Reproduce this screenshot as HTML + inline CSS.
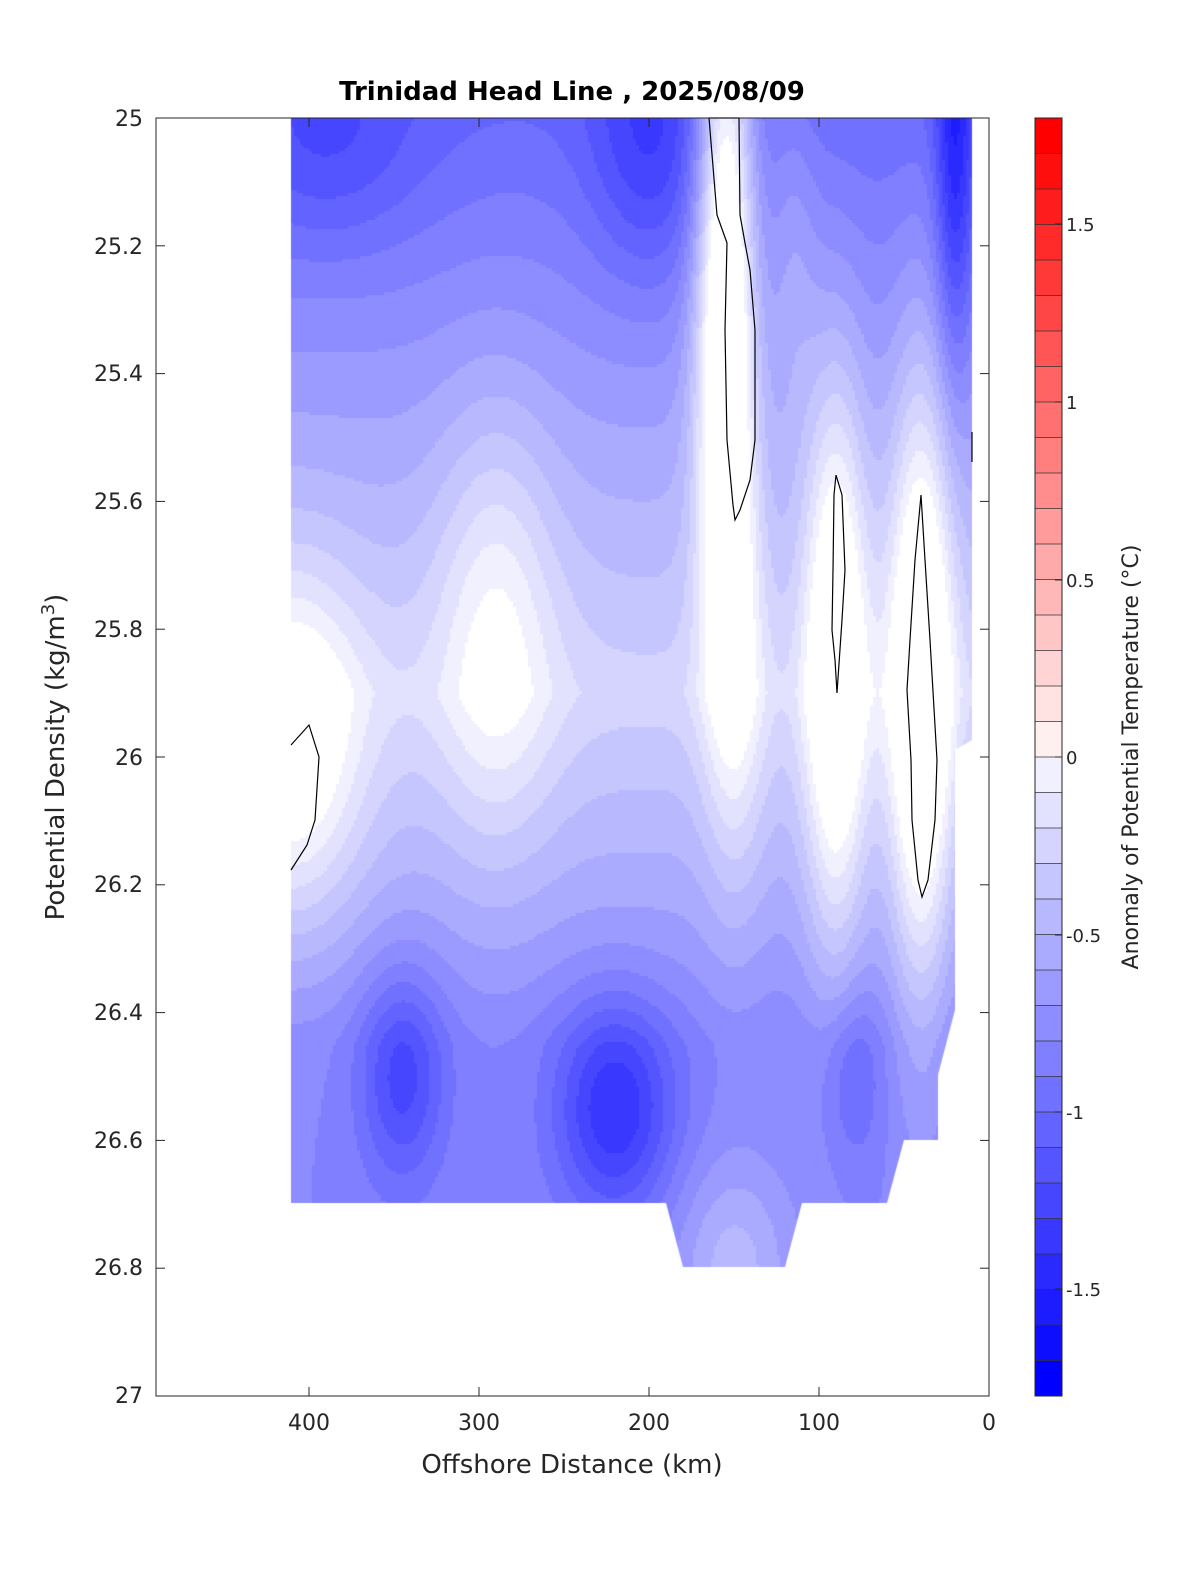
<!DOCTYPE html>
<html><head><meta charset="utf-8"><style>
body{margin:0;background:#fff;width:1200px;height:1575px;position:relative;font-family:"Liberation Sans","DejaVu Sans",sans-serif;overflow:hidden}
canvas{position:absolute;left:0;top:0}
svg{position:absolute;left:0;top:0}
</style></head><body>
<canvas id="c" width="1200" height="1575"></canvas>
<svg width="1200" height="1575" xmlns="http://www.w3.org/2000/svg" font-family="DejaVu Sans, Liberation Sans, sans-serif">
<g fill="none" stroke="#000" stroke-width="1.2">
<polyline points="291,745 309,725 319,757 315,820 307,845 291,870"/>
<polygon points="709,118 717,215 727,243 725,330 727,440 733,505 735,520 740,510 750,480 755,440 755,330 750,270 745,243 740,215 739,118"/>
<polygon points="836,475 842,495 845,570 842,620 837,693 835,660 832,630 833,570 834,495"/>
<polygon points="921,495 925,560 930,640 937,760 935,820 928,880 922,897 918,880 912,820 911,760 907,690 910,640 915,560"/>
<line x1="972" y1="432" x2="972" y2="462"/>
</g>
<rect x="156" y="118" width="833" height="1278" fill="none" stroke="#262626" stroke-width="1"/>
<g stroke="#262626" stroke-width="1" id="ticks"></g>
<g font-size="22" fill="#262626" text-anchor="end">
<text x="143" y="126">25</text><text x="143" y="254">25.2</text><text x="143" y="381">25.4</text>
<text x="143" y="509">25.6</text><text x="143" y="637">25.8</text><text x="143" y="765">26</text>
<text x="143" y="892">26.2</text><text x="143" y="1020">26.4</text><text x="143" y="1148">26.6</text>
<text x="143" y="1275">26.8</text><text x="143" y="1403">27</text>
</g>
<g font-size="22" fill="#262626" text-anchor="middle">
<text x="309" y="1430">400</text><text x="479" y="1430">300</text><text x="649" y="1430">200</text>
<text x="819" y="1430">100</text><text x="989" y="1430">0</text>
</g>
<text x="572" y="1473" font-size="26" fill="#262626" text-anchor="middle">Offshore Distance (km)</text>
<text transform="translate(64,757) rotate(-90)" font-size="26" fill="#262626" text-anchor="middle">Potential Density (kg/m<tspan font-size="18" dy="-10">3</tspan><tspan dy="10">)</tspan></text>
<text x="572" y="100" font-size="26" font-weight="bold" fill="#000" text-anchor="middle">Trinidad Head Line , 2025/08/09</text>
<g id="cb"></g>
<rect x="1035" y="118" width="27" height="1278" fill="none" stroke="#262626" stroke-width="1"/>
<g font-size="18" fill="#262626">
<text x="1066" y="231">1.5</text><text x="1066" y="409">1</text><text x="1066" y="587">0.5</text>
<text x="1066" y="764">0</text><text x="1066" y="942">-0.5</text><text x="1066" y="1119">-1</text><text x="1066" y="1296">-1.5</text>
</g>
<text transform="translate(1138,757) rotate(-90)" font-size="22" fill="#262626" text-anchor="middle">Anomaly of Potential Temperature (°C)</text>
</svg>
<script>
function col(v){var q=Math.round(v*10)/10; if(q>1.8)q=1.8; if(q<-1.8)q=-1.8;
 if(q<=0){var t=255*(1+q/1.8);return [t,t,255];} var t=255*(1-q/1.8);return [255,t,t];}
function g(x,s,x0,s0,sx,ss){var a=(x-x0)/sx,b=(s-s0)/ss;return Math.exp(-(a*a+b*b)/2);}
function f(x,s){
 var base;
 if(s<25.9) base=-1.05+0.75*(s-25)/0.9; else base=-0.3-0.55*Math.min(1,(s-25.9)/0.55);
 var v=base;
 v+=0.4*g(x,s,290,25.8,25,0.25);
 v+=0.6*g(x,s,410,26.0,30,0.2);
 v+=1.2*g(x,s,155,25.25,12,0.42);
 v+=0.2*g(x,s,145,25.9,12,0.25);
 v+=0.75*g(x,s,90,25.85,13,0.33);
 v+=0.85*g(x,s,40,25.9,13,0.35);
 v-=0.55*g(x,s,20,25.05,8,0.25);
 v-=0.45*g(x,s,345,26.5,18,0.12);
 v-=0.6*g(x,s,220,26.55,25,0.12);
 v-=0.25*g(x,s,80,26.5,12,0.1);
 v+=0.35*g(x,s,150,26.8,25,0.12);
 v-=0.25*g(x,s,390,25.05,40,0.12);
 v-=0.35*g(x,s,200,25.05,25,0.15);
 v+=0.2*g(x,s,115,25.2,10,0.2);
 return Math.min(v,-0.0);}
var cv=document.getElementById('c').getContext('2d');
cv.save();cv.beginPath();
var poly=[[291,118],[972,118],[972,740],[955,750],[955,1010],[938,1075],[938,1140],[904,1140],[887,1203],[802,1203],[785,1267],[683,1267],[666,1203],[291,1203]];
cv.moveTo(poly[0][0],poly[0][1]);for(var i=1;i<poly.length;i++)cv.lineTo(poly[i][0],poly[i][1]);cv.closePath();cv.clip();
var st=3;
for(var px=291;px<972;px+=st){var x=(989-px-st/2)/1.7;
 for(var py=118;py<1267;py+=st){var s=25+(py+st/2-118)/639;
  var c=col(f(x,s));cv.fillStyle='rgb('+(c[0]|0)+','+(c[1]|0)+','+(c[2]|0)+')';cv.fillRect(px,py,st,st);}}
cv.restore();
var cb='';for(var k=0;k<36;k++){var v=1.8-0.1*k-0.05;var y=118+k*35.5;var c=col(v>0?v+0.05:v-0.05);
 cb+='<rect x="1035" y="'+y+'" width="27" height="35.6" fill="rgb('+(c[0]|0)+','+(c[1]|0)+','+(c[2]|0)+')"/>';
 cb+='<line x1="1035" x2="1062" y1="'+y+'" y2="'+y+'" stroke="#333" stroke-width="0.8"/>';}
[224,402,580,757,935,1112,1289].forEach(function(y){cb+='<line x1="1055" x2="1062" y1="'+y+'" y2="'+y+'" stroke="#262626"/>';});
document.getElementById('cb').innerHTML=cb;
var t='';[309,479,649,819].forEach(function(x){t+='<line x1="'+x+'" x2="'+x+'" y1="1396" y2="1387"/><line x1="'+x+'" x2="'+x+'" y1="118" y2="127"/>';});
for(var i=1;i<10;i++){var y=118+i*127.8;t+='<line x1="156" x2="165" y1="'+y+'" y2="'+y+'"/><line x1="980" x2="989" y1="'+y+'" y2="'+y+'"/>';}
document.getElementById('ticks').innerHTML=t;
</script>
</body></html>
